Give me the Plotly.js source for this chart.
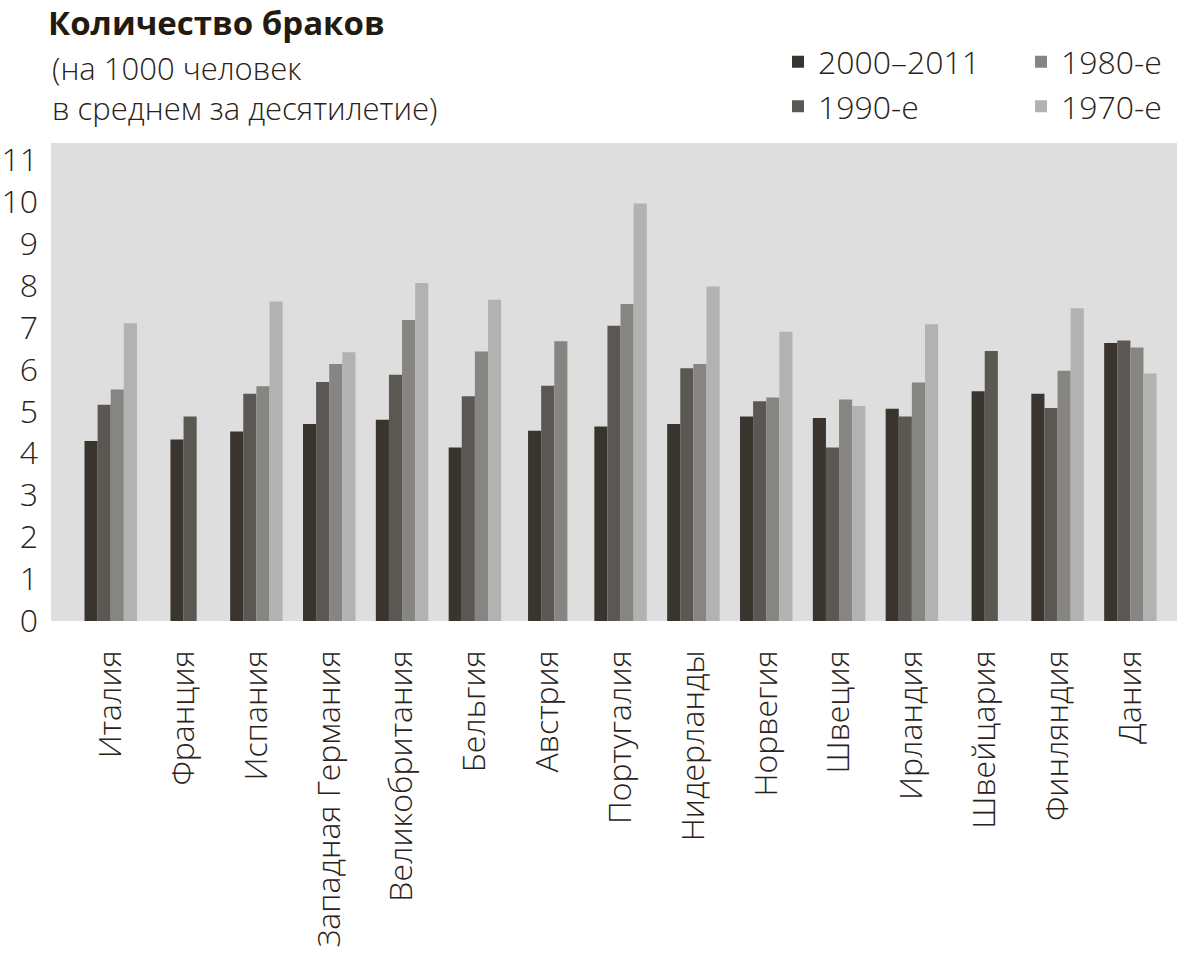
<!DOCTYPE html>
<html>
<head>
<meta charset="utf-8">
<script src="https://cdn.plot.ly/plotly-3.0.1.min.js"></script>
<style>html,body{margin:0;padding:0;background:#fff;}#chart{width:1191px;height:954px;}</style>
</head>
<body>
<div id="chart"></div>
<script>
const countries = ["Италия","Франция","Испания","Западная Германия","Великобритания","Бельгия","Австрия","Португалия","Нидерланды","Норвегия","Швеция","Ирландия","Швейцария","Финляндия","Дания"];
const seriesNames = ["2000–2011","1990-е","1980-е","1970-е"];
const v2000s = [4.29, 4.33, 4.52, 4.70, 4.80, 4.14, 4.54, 4.64, 4.70, 4.88, 4.84, 5.06, 5.48, 5.42, 6.63];
const v1990s = [5.16, 4.88, 5.42, 5.70, 5.87, 5.36, 5.61, 7.04, 6.03, 5.24, 4.14, 4.88, 6.44, 5.08, 6.69];
const v1980s = [5.52, null, 5.60, 6.13, 7.18, 6.43, 6.67, 7.56, 6.13, 5.33, 5.28, 5.69, null, 5.97, 6.52];
const v1970s = [7.10, null, 7.62, 6.41, 8.06, 7.66, null, 9.96, 7.98, 6.90, 5.13, 7.08, null, 7.46, 5.90];
const yTicks = [0,1,2,3,4,5,6,7,8,9,10,11];

const colors = ["#3a342e","#5b5853","#878582","#b2b2b2"];
const legendIds = ["legend","legend","legend2","legend2"];
const allSeries = [v2000s, v1990s, v1980s, v1970s];
const barW = 0.18;
const xIdx = countries.map((c,i)=>i);

// per-point offsets so the bars present in each group are centred on the category
const offsets = allSeries.map(()=>[]);
countries.forEach((c,j)=>{
  const present = allSeries.map((s,i)=> s[j]!==null ? i : -1).filter(i=>i>=0);
  const n = present.length;
  present.forEach((i,k)=>{ offsets[i][j] = -n*barW/2 + k*barW; });
  allSeries.forEach((s,i)=>{ if (offsets[i][j]===undefined) offsets[i][j] = 0; });
});

const fontFam = "'Open Sans', 'Noto Sans', sans-serif";
const txtCol = "#2a2218";

const traces = allSeries.map((s,i)=>({
  type:'bar',
  name: seriesNames[i],
  x: xIdx,
  y: s,
  width: barW,
  offset: offsets[i],
  marker:{color: colors[i], line:{width:0}},
  legend: legendIds[i],
  hoverinfo:'y'
}));

const legendBase = {
  orientation:'v',
  xref:'container', yref:'container',
  xanchor:'left', yanchor:'top',
  y: 0.964,
  traceorder:'normal',
  font:{family:fontFam, size:32, color:txtCol, weight:300},
  bgcolor:'rgba(0,0,0,0)',
  itemclick:false
};

const layout = {
  width:1191, height:954,
  paper_bgcolor:'#ffffff',
  plot_bgcolor:'#dedede',
  margin:{l:51, r:14, t:143, b:333, autoexpand:false},
  barmode:'overlay',
  showlegend:true,
  title:{
    text:'<b>Количество браков</b>',
    font:{family:fontFam, size:33, color:'#231a10'},
    x: 48/1191, xref:'container', xanchor:'left',
    y: 0.975, yref:'container', yanchor:'middle'
  },
  annotations:[{
    text:'(на 1000 человек<br>в среднем за десятилетие)',
    xref:'paper', yref:'paper', x:-0.001, y:(621-88)/478,
    xanchor:'left', yanchor:'middle', align:'left', showarrow:false,
    font:{family:fontFam, size:31, color:txtCol, weight:300}
  }],
  legend: Object.assign({}, legendBase, {x: 778/1191}),
  legend2: Object.assign({}, legendBase, {x: 1021/1191}),
  xaxis:{
    tickmode:'array',
    tickvals: xIdx,
    ticktext: countries,
    range:[-0.82, 14.64],
    tickangle:-90,
    ticks:'',
    showgrid:false,
    zeroline:false,
    showline:false,
    ticklabelstandoff:22,
    tickfont:{family:fontFam, size:32, color:txtCol, weight:300}
  },
  yaxis:{
    range:[0, 11.4],
    tickmode:'array',
    tickvals: yTicks,
    ticktext: yTicks.map(String),
    ticks:'',
    showgrid:false,
    zeroline:false,
    showline:false,
    ticklabelstandoff:12,
    tickfont:{family:fontFam, size:32, color:txtCol, weight:300}
  }
};

Plotly.newPlot('chart', traces, layout, {displayModeBar:false, staticPlot:true});
</script>
</body>
</html>
